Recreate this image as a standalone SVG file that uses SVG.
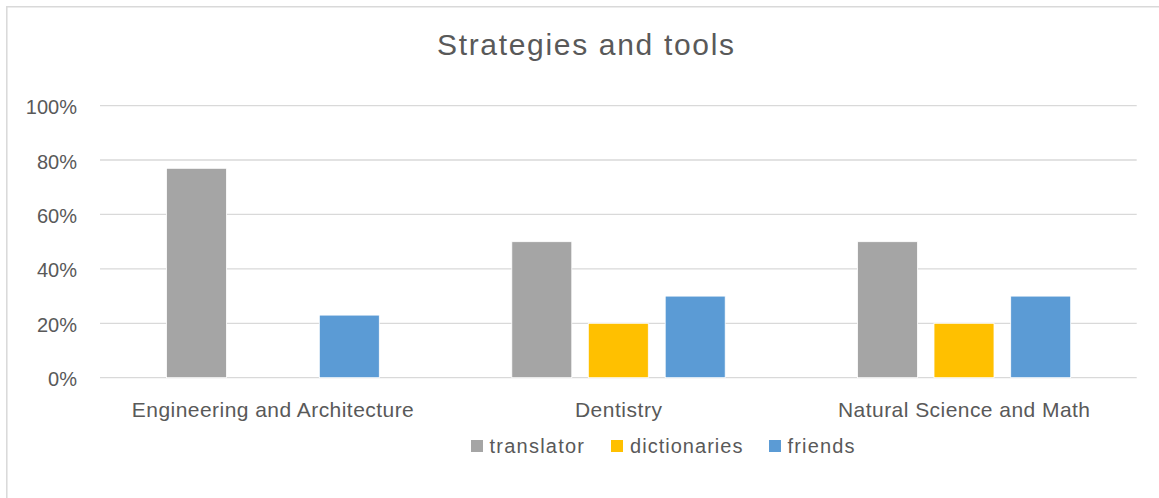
<svg xmlns="http://www.w3.org/2000/svg" width="1159" height="498" viewBox="0 0 1159 498">
<style>
.frame{fill:none;stroke:#D9D9D9;stroke-width:1.5}
.grid{stroke:#D9D9D9;stroke-width:1.3}
.t{font-family:"Liberation Sans",Arial,sans-serif;fill:#595959}
.ax{font-size:20px;text-anchor:end}
.cat{font-size:21px;text-anchor:middle}
.leg{font-size:20px}
.title{font-size:30px;text-anchor:middle}
.bar{stroke:#FFFFFF;stroke-width:0.8}
.tr{fill:#A5A5A5}
.di{fill:#FFC000}
.fr{fill:#5B9BD5}
</style>
<rect width="1159" height="498" fill="#FFFFFF"/>
<path class="frame" d="M6.8,498 V6.8 H1159"/>
<text class="t title" x="585.5" y="54.5" textLength="297" lengthAdjust="spacing">Strategies and tools</text>
<g id="gridlines">
<line class="grid" x1="100" y1="105.6" x2="1136.7" y2="105.6"/>
<line class="grid" x1="100" y1="160" x2="1136.7" y2="160"/>
<line class="grid" x1="100" y1="214.4" x2="1136.7" y2="214.4"/>
<line class="grid" x1="100" y1="268.9" x2="1136.7" y2="268.9"/>
<line class="grid" x1="100" y1="323.3" x2="1136.7" y2="323.3"/>
<line class="grid" x1="100" y1="377.7" x2="1136.7" y2="377.7"/>
</g>
<g id="y-axis">
<text class="t ax" x="77" y="114">100%</text>
<text class="t ax" x="77" y="168.5">80%</text>
<text class="t ax" x="77" y="223">60%</text>
<text class="t ax" x="77" y="277.4">40%</text>
<text class="t ax" x="77" y="331.8">20%</text>
<text class="t ax" x="77" y="386.2">0%</text>
</g>
<g id="cat-engineering">
<rect class="bar tr" x="166.5" y="168.3" width="60" height="209.4"/>
<rect class="bar fr" x="319.3" y="315.1" width="60" height="62.6"/>
<text class="t cat" x="272.8" y="416.5" textLength="282" lengthAdjust="spacing">Engineering and Architecture</text>
</g>
<g id="cat-dentistry">
<rect class="bar tr" x="511.8" y="241.7" width="60" height="136"/>
<rect class="bar di" x="588.3" y="323.3" width="60" height="54.4"/>
<rect class="bar fr" x="665.2" y="296.1" width="60" height="81.6"/>
<text class="t cat" x="618.4" y="416.5" textLength="87" lengthAdjust="spacing">Dentistry</text>
</g>
<g id="cat-natural">
<rect class="bar tr" x="857.5" y="241.7" width="60" height="136"/>
<rect class="bar di" x="934" y="323.3" width="60" height="54.4"/>
<rect class="bar fr" x="1010.7" y="296.1" width="60" height="81.6"/>
<text class="t cat" x="964" y="416.5" textLength="252" lengthAdjust="spacing">Natural Science and Math</text>
</g>
<g id="legend">
<rect class="tr" x="471" y="440" width="12" height="12"/>
<text class="t leg" x="489.5" y="452.5" textLength="94.5" lengthAdjust="spacing">translator</text>
<rect class="di" x="611" y="440" width="12" height="12"/>
<text class="t leg" x="630" y="452.5" textLength="112.5" lengthAdjust="spacing">dictionaries</text>
<rect class="fr" x="769" y="440" width="12" height="12"/>
<text class="t leg" x="787.5" y="452.5" textLength="67" lengthAdjust="spacing">friends</text>
</g>
</svg>
